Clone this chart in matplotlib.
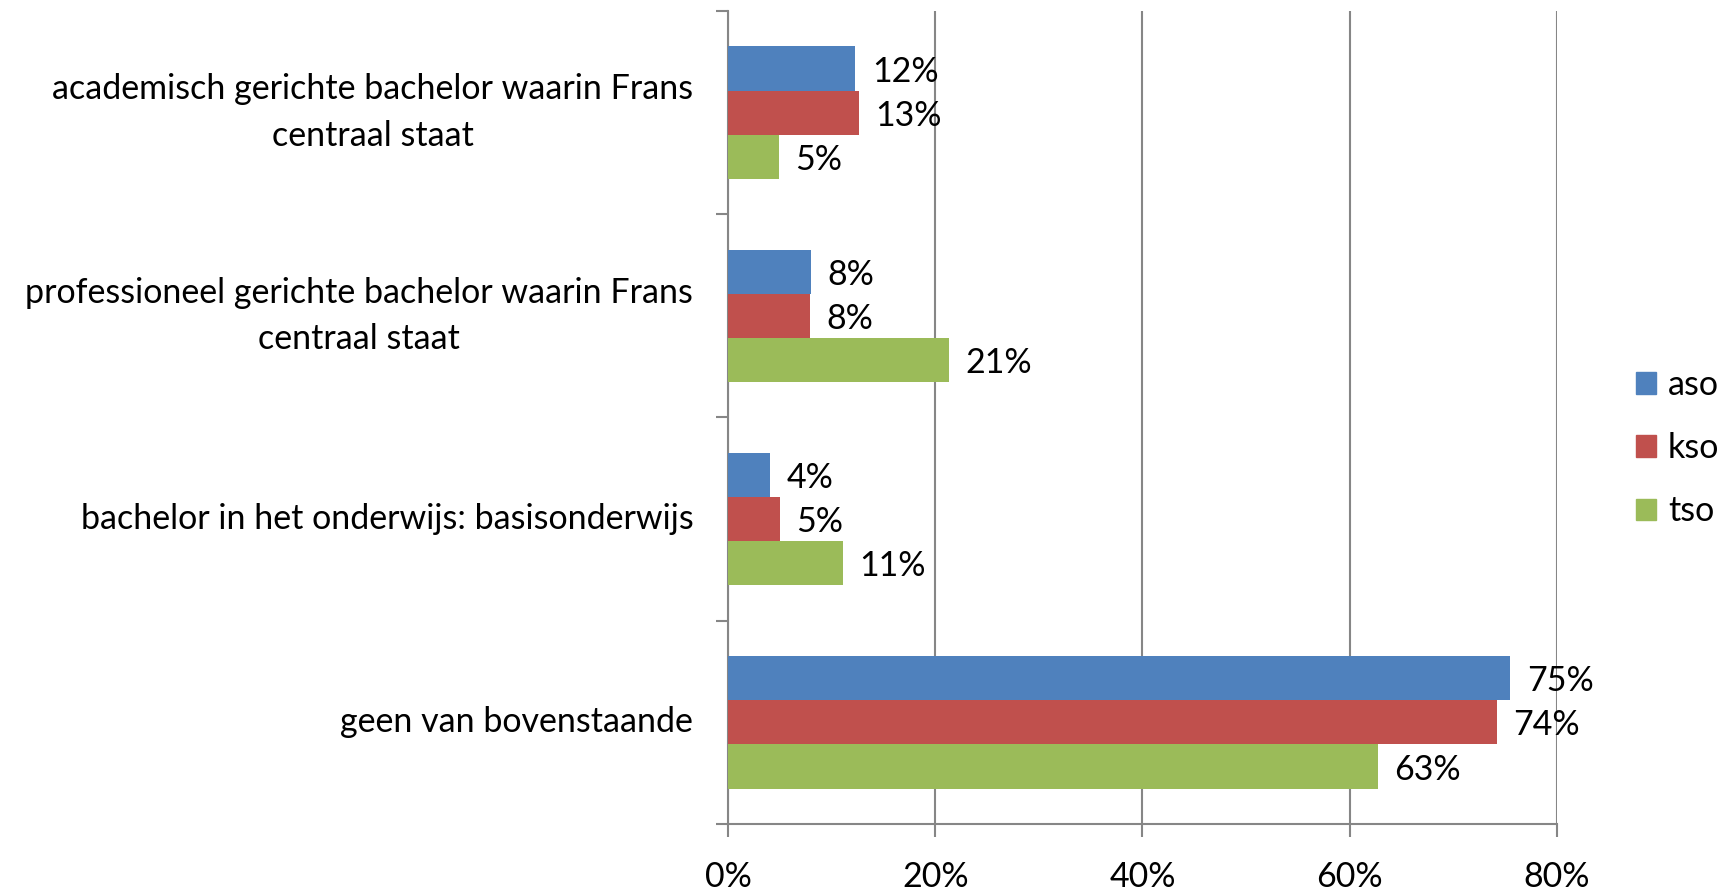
import numpy as np
import matplotlib.pyplot as plt
from matplotlib.patches import Patch
from matplotlib.ticker import FuncFormatter

plt.rcParams['font.family'] = ['Lato', 'DejaVu Sans']

categories = ['academisch gerichte bachelor waarin Frans\ncentraal staat',
              'professioneel gerichte bachelor waarin Frans\ncentraal staat',
              'bachelor in het onderwijs: basisonderwijs',
              'geen van bovenstaande']
series = ['aso', 'kso', 'tso']
aso = [0.123, 0.080, 0.041, 0.755]
kso = [0.126, 0.079, 0.050, 0.742]
tso = [0.049, 0.213, 0.111, 0.627]
labels_aso = ['12%', '8%', '4%', '75%']
labels_kso = ['13%', '8%', '5%', '74%']
labels_tso = ['5%', '21%', '11%', '63%']
colors = ['#4f81bd', '#c0504d', '#9bbb59']

fs = 24.5

fig = plt.figure(figsize=(17.35, 8.91), dpi=100)
ax = fig.add_axes([0.4196, 0.0752, 0.4778, 0.9125])

y = np.arange(len(categories))
h = 0.217
for i, (vals, labs) in enumerate(zip([aso, kso, tso], [labels_aso, labels_kso, labels_tso])):
    pos = y - h + i * h
    ax.barh(pos, vals, height=h, color=colors[i], zorder=3)
    for p, v, t in zip(pos, vals, labs):
        ax.text(v + 0.016, p + 0.015, t, va='center', ha='left', fontsize=fs, zorder=4)

ax.set_xlim(0, 0.8)
ax.set_ylim(len(categories) - 0.5, -0.5)
ax.set_xticks([0, 0.2, 0.4, 0.6, 0.8])
ax.xaxis.set_major_formatter(FuncFormatter(lambda v, _: f'{v*100:.0f}%'))
ax.set_yticks(y)
ax.set_yticklabels(categories, multialignment='center', linespacing=1.55, va='center')
ax.set_yticks(np.arange(-0.5, len(categories)), minor=True)
ax.tick_params(axis='y', which='major', length=0, pad=25, labelsize=fs)
ax.tick_params(axis='y', which='minor', length=9, color='#868686', width=1.5)
ax.tick_params(axis='x', length=9, color='#868686', width=1.5, pad=18, labelsize=fs)
ax.grid(axis='x', color='#868686', linewidth=1.5, zorder=0)
for s in ['top', 'right']:
    ax.spines[s].set_visible(False)
for s in ['left', 'bottom']:
    ax.spines[s].set_color('#868686')
    ax.spines[s].set_linewidth(1.5)

handles = [Patch(color=c) for c in colors]
fig.legend(handles, series, loc='center left', bbox_to_anchor=(0.933, 0.497),
           frameon=False, fontsize=fs, handlelength=0.6, handleheight=0.6,
           handletextpad=0.35, labelspacing=0.92, borderpad=0)

fig.savefig('out.png', dpi=100)
